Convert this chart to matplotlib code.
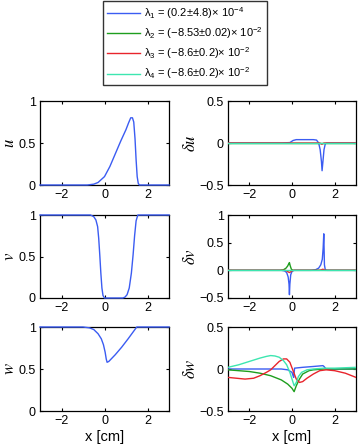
import matplotlib
matplotlib.use('Agg')
import matplotlib.pyplot as plt

plt.rcParams['font.family'] = ['Liberation Sans', 'DejaVu Sans']
plt.rcParams['mathtext.fontset'] = 'custom'
plt.rcParams['mathtext.rm'] = 'Liberation Sans'
plt.rcParams['mathtext.it'] = 'Liberation Sans:italic'

# profiles u, v, w (blue curve)
u_x = [-3, -0.8, -0.5, -0.3, 0, 0.25, 0.5, 0.75, 1.0, 1.12, 1.22, 1.3, 1.36, 1.42, 1.47, 1.52, 1.57, 1.62, 3]
u_y = [0, 0, 0.01, 0.03, 0.1, 0.22, 0.37, 0.52, 0.66, 0.74, 0.8, 0.8, 0.75, 0.55, 0.3, 0.1, 0.02, 0, 0]

v_x = [-3, -0.65, -0.5, -0.4, -0.32, -0.27, -0.22, -0.17, -0.12, -0.07, 0, 0.85, 0.95, 1.05, 1.15, 1.25, 1.33, 1.4, 1.47, 1.55, 3]
v_y = [1, 1, 0.98, 0.94, 0.86, 0.72, 0.52, 0.3, 0.12, 0.03, 0, 0, 0.01, 0.04, 0.12, 0.3, 0.52, 0.75, 0.93, 1, 1]

w_x = [-3, -1.0, -0.7, -0.5, -0.3, -0.15, -0.05, 0.03, 0.08, 0.12, 0.2, 0.5, 0.8, 1.1, 1.3, 1.5, 3]
w_y = [1, 1, 0.99, 0.97, 0.92, 0.86, 0.79, 0.7, 0.62, 0.58, 0.59, 0.67, 0.76, 0.86, 0.93, 1.0, 1.0]

# perturbations, one series per eigenvalue
du_x = {
    1: [-3, -0.5, -0.1, 0.05, 0.2, 0.6, 1.0, 1.15, 1.25, 1.32, 1.38, 1.41, 1.45, 1.5, 1.56, 1.62, 3],
    2: [-3, 3],
    3: [-3, 1.3, 1.4, 1.5, 3],
    4: [-3, 3],
}
du_y = {
    1: [0, 0, 0.005, 0.03, 0.04, 0.04, 0.04, 0.035, 0.0, -0.08, -0.22, -0.33, -0.22, -0.08, -0.01, 0, 0],
    2: [0, 0],
    3: [0, 0, -0.015, 0, 0],
    4: [0, 0],
}

dv_x = {
    1: [-3, -0.5, -0.35, -0.25, -0.18, -0.14, -0.12, -0.1, -0.06, 0.0, 0.1, 0.4, 0.9, 1.1, 1.25, 1.35, 1.42, 1.46, 1.49, 1.52, 1.56, 1.65, 3],
    2: [-3, -0.55, -0.4, -0.28, -0.2, -0.15, -0.12, -0.09, -0.03, 0.05, 3],
    3: [-3, -0.3, -0.12, 0.05, 1.3, 1.45, 1.55, 3],
    4: [-3, 3],
}
dv_y = {
    1: [0, 0, -0.01, -0.04, -0.12, -0.25, -0.44, -0.25, -0.08, -0.02, 0, 0, 0, 0.01, 0.04, 0.1, 0.2, 0.4, 0.66, 0.1, 0.01, 0, 0],
    2: [0, 0, 0.01, 0.04, 0.08, 0.12, 0.14, 0.09, 0.02, 0, 0],
    3: [0, 0, -0.04, 0, 0, 0.02, 0, 0],
    4: [0, 0],
}

dw_x = {
    1: [-3, -0.5, -0.2, 0.0, 0.05, 0.08, 0.12, 0.5, 1.0, 1.45, 1.5, 1.6, 3],
    2: [-3, -2, -1.5, -1, -0.5, -0.2, 0, 0.1, 0.2, 0.35, 0.5, 0.8, 1.0, 1.5, 2, 3],
    3: [-3, -2.6, -2.2, -1.8, -1.5, -1.2, -1.0, -0.8, -0.6, -0.4, -0.25, -0.1, 0.05, 0.2, 0.35, 0.5, 0.7, 1.0, 1.3, 1.6, 2.0, 2.5, 3],
    4: [-3, -2.5, -2, -1.5, -1.2, -1.0, -0.8, -0.6, -0.4, -0.25, -0.1, 0.0, 0.1, 0.2, 0.3, 0.45, 0.7, 1.0, 1.5, 2, 3],
}
dw_y = {
    1: [0, 0, -0.01, -0.04, -0.08, -0.1, 0.01, 0.02, 0.03, 0.04, 0.03, 0, 0],
    2: [-0.01, -0.03, -0.05, -0.08, -0.13, -0.18, -0.23, -0.27, -0.2, -0.12, -0.06, -0.02, -0.01, 0, 0, 0],
    3: [-0.1, -0.11, -0.12, -0.11, -0.08, -0.04, -0.01, 0.04, 0.09, 0.12, 0.12, 0.08, -0.02, -0.12, -0.16, -0.15, -0.11, -0.06, -0.02, -0.01, -0.02, -0.05, -0.1],
    4: [0.02, 0.05, 0.09, 0.13, 0.15, 0.16, 0.155, 0.14, 0.1, 0.05, -0.04, -0.12, -0.2, -0.16, -0.09, -0.04, -0.01, 0, 0.01, 0.01, 0.02],
}

labels = {
    1: 'λ$_1$ = (0.2±4.8)× 10$^{\u22124}$',
    2: 'λ$_2$ = (\u22128.53±0.02)× 10$^{\u22122}$',
    3: 'λ$_3$ = (\u22128.6±0.2)× 10$^{\u22122}$',
    4: 'λ$_4$ = (\u22128.6±0.2)× 10$^{\u22122}$',
}
colors = {1: '#3b5cf2', 2: '#1e9e1e', 3: '#e8242c', 4: '#3de6b0'}

fig = plt.figure(figsize=(3.6, 4.45), dpi=100)

W, H = 360, 445
def add_ax(l, t, r, b):
    return fig.add_axes([l / W, 1 - b / H, (r - l) / W, (b - t) / H])

rows = [(101, 185), (215, 298), (327, 411)]
left_axes = [add_ax(40, t, 169, b) for t, b in rows]
right_axes = [add_ax(228, t, 356, b) for t, b in rows]

profiles = [(u_x, u_y, '$u$'), (v_x, v_y, '$v$'), (w_x, w_y, '$w$')]
for ax, (x, y, name) in zip(left_axes, profiles):
    ax.plot(x, y, color=colors[1], lw=1.0, clip_on=False, zorder=5)
    ax.set_ylim(0, 1)
    ax.set_yticks([0, 0.5, 1])
    ax.set_yticklabels(['0', '0.5', '1'])
    ax.set_ylabel(name, fontsize=12, labelpad=1, math_fontfamily='stix')

perts = [(du_x, du_y, r'$\delta u$', (-0.5, 0.5), [-0.5, 0, 0.5], ['\u22120.5', '0', '0.5']),
         (dv_x, dv_y, r'$\delta v$', (-0.5, 1), [-0.5, 0, 0.5, 1], ['\u22120.5', '0', '0.5', '1']),
         (dw_x, dw_y, r'$\delta w$', (-0.5, 0.5), [-0.5, 0, 0.5], ['\u22120.5', '0', '0.5'])]
handles = []
for i, (ax, (xs, ys, name, lim, ticks, tl)) in enumerate(zip(right_axes, perts)):
    for k in [1, 2, 3, 4]:
        ln, = ax.plot(xs[k], ys[k], color=colors[k], lw=1.0, zorder=2 + k)
        if i == 0:
            handles.append(ln)
    ax.set_ylim(*lim)
    ax.set_yticks(ticks)
    ax.set_yticklabels(tl)
    ax.set_ylabel(name, fontsize=12, labelpad=1, math_fontfamily='stix')

for ax in left_axes + right_axes:
    ax.set_xlim(-3, 3)
    ax.set_xticks([-2, 0, 2])
    ax.set_xticklabels(['\u22122', '0', '2'])
    ax.tick_params(direction='in', length=2.5, labelsize=9, pad=3, top=True, right=True)
    for s in ax.spines.values():
        s.set_linewidth(0.9)

for ax in (left_axes[2], right_axes[2]):
    ax.set_xlabel('x [cm]', fontsize=10.5, labelpad=2)

leg = fig.legend(handles, [labels[k] for k in [1, 2, 3, 4]],
                 loc='upper left', bbox_to_anchor=(103 / W, 1 - 1 / H),
                 fontsize=8, frameon=True, fancybox=False, edgecolor='black',
                 handlelength=3.0, handletextpad=0.35, labelspacing=0.4,
                 borderpad=0.35, borderaxespad=0)
leg.get_frame().set_linewidth(1.0)

fig.savefig('out.png', dpi=100)
